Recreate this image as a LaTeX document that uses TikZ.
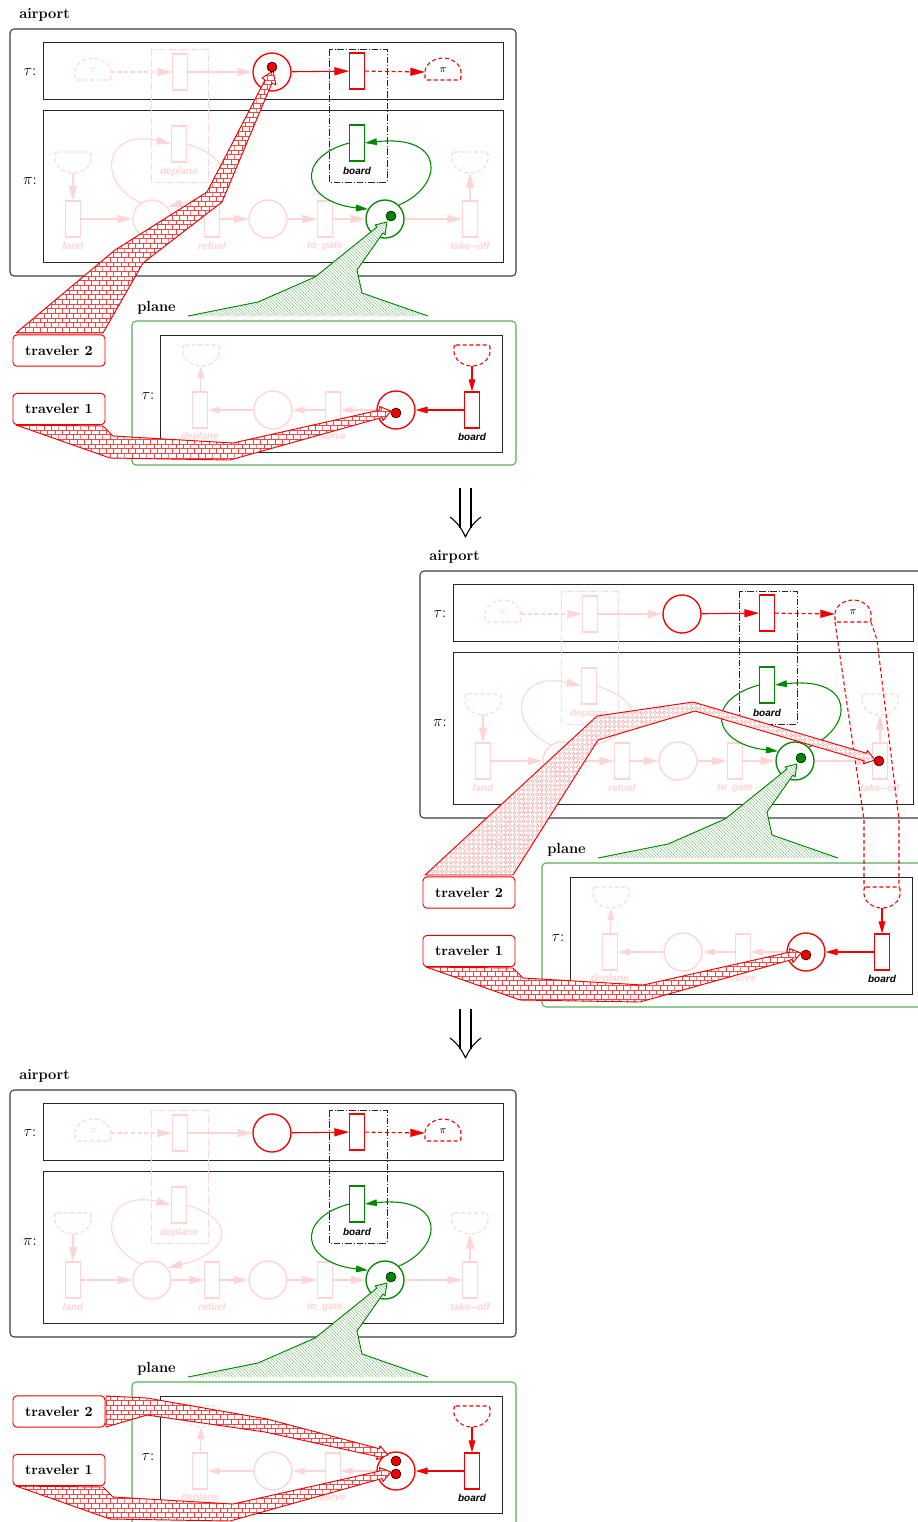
\documentclass[tikz,border=0pt]{standalone}
\usepackage{fontspec}
\usetikzlibrary{arrows.meta,patterns}
\newfontfamily\lblfont{Liberation Sans}

\definecolor{fade}{RGB}{255,212,212}
\definecolor{netred}{RGB}{240,0,0}
\definecolor{netgreen}{RGB}{0,135,0}
\definecolor{boxgreen}{RGB}{85,175,85}
\definecolor{hatchgreen}{RGB}{95,175,95}
\definecolor{brickred}{RGB}{245,70,70}
\definecolor{ringred}{RGB}{250,150,150}
\definecolor{framegray}{RGB}{60,60,60}

% fill patterns for the token-mapping bands
\pgfdeclarepatternformonly{smallbricks}{\pgfqpoint{-0.2pt}{-0.2pt}}{\pgfqpoint{5.7pt}{7.2pt}}{\pgfqpoint{5.5pt}{7pt}}{%
  \pgfsetlinewidth{0.3pt}%
  \pgfpathmoveto{\pgfqpoint{0pt}{0pt}}\pgfpathlineto{\pgfqpoint{5.5pt}{0pt}}%
  \pgfpathmoveto{\pgfqpoint{0pt}{3.5pt}}\pgfpathlineto{\pgfqpoint{5.5pt}{3.5pt}}%
  \pgfpathmoveto{\pgfqpoint{0pt}{0pt}}\pgfpathlineto{\pgfqpoint{0pt}{3.5pt}}%
  \pgfpathmoveto{\pgfqpoint{2.75pt}{3.5pt}}\pgfpathlineto{\pgfqpoint{2.75pt}{7pt}}%
  \pgfusepath{stroke}}
\pgfdeclarepatternformonly{rings}{\pgfqpoint{-0.2pt}{-0.2pt}}{\pgfqpoint{3.6pt}{3.6pt}}{\pgfqpoint{3.4pt}{3.4pt}}{%
  \pgfsetlinewidth{0.3pt}%
  \pgfpathcircle{\pgfqpoint{1.7pt}{1.7pt}}{1.25pt}\pgfusepath{stroke}}
\pgfdeclarepatternformonly{finehatch}{\pgfqpoint{-0.2pt}{-0.2pt}}{\pgfqpoint{2.6pt}{2.6pt}}{\pgfqpoint{2.4pt}{2.4pt}}{%
  \pgfsetlinewidth{0.25pt}%
  \pgfpathmoveto{\pgfqpoint{0pt}{2.4pt}}\pgfpathlineto{\pgfqpoint{2.4pt}{0pt}}\pgfusepath{stroke}}

\tikzset{
  every node/.style={inner sep=0pt},
  place/.style={circle, draw, line width=1pt, minimum size=28.5pt},
  trans/.style={rectangle, draw, line width=0.85pt, minimum width=11pt, minimum height=27pt},
  token/.style={circle, draw=black, line width=0.4pt, minimum size=7.5pt},
  redtoken/.style={token, fill=netred},
  greentoken/.style={token, fill=netgreen},
  tlabel/.style={font=\lblfont\bfseries\itshape\fontsize{7.5}{9}\selectfont},
  boxtitle/.style={font=\bfseries\fontsize{11}{13}\selectfont},
  rowlbl/.style={font=\fontsize{11.5}{13}\selectfont},
  pitext/.style={font=\fontsize{8}{9}\selectfont},
  flow/.style={-{Triangle[length=11pt,width=6pt]}, line width=0.8pt},
  smallflow/.style={-{Triangle[length=9pt,width=5pt]}, line width=0.8pt},
  dashline/.style={dash pattern=on 3pt off 2pt},
  groupbox/.style={line width=0.6pt, dash pattern=on 5pt off 1.5pt on 0.6pt off 1.5pt},
  netframe/.style={draw=black!85, line width=0.75pt},
  travbox/.style={draw=netred, fill=white, rounded corners=3pt, line width=0.7pt,
    minimum width=69pt, minimum height=23.5pt, font=\bfseries\fontsize{10.5}{12}\selectfont},
}

% half-disc with a flat bottom (colour, centre x, bottom y)
\newcommand\domepath[3]{%
  \draw[#1, line width=0.8pt, dashline, rounded corners=1.5pt]
    ({#2-18},#3) -- ({#2+18},#3) -- ({#2+18},{#3-6})
    arc[start angle=0, end angle=-180, x radius=18, y radius=16] -- cycle;}
% half-disc with a flat top (colour, centre x, top y)
\newcommand\cuppath[3]{%
  \draw[#1, line width=0.8pt, dashline, rounded corners=1.5pt]
    ({#2-18},#3) -- ({#2+18},#3) -- ({#2+18},{#3+5})
    arc[start angle=0, end angle=180, x radius=18, y radius=16] -- cycle;}

% hatched band (pattern, pattern colour, open polygon)
\newcommand\redband[3]{%
  \fill[white] #3 -- cycle;
  \fill[pattern=#1, pattern color=#2] #3 -- cycle;
  \draw[netred, line width=0.7pt, line join=round] #3 -- cycle;}

% double arrow between the stages (top y)
\newcommand\stagearrow[1]{%
  \draw[line width=0.8pt] (460,#1) -- (460,{#1+40});
  \draw[line width=0.8pt] (471,#1) -- (471,{#1+40});
  \draw[line width=0.8pt, line join=round]
    (450,{#1+29}) .. controls (457,{#1+34}) and (462,{#1+41}) .. (465.5,{#1+49})
    .. controls (469,{#1+41}) and (474,{#1+34}) .. (481,{#1+29});}

% nets shared by every stage
\newcommand\stagebase{%
  % airport
  \node[boxtitle, anchor=west] (airport-lbl) at (19,15) {airport};
  \draw[draw=framegray, line width=0.8pt, rounded corners=3pt] (10,29) rectangle (516,276);
  \draw[netframe] (43,42) rectangle (503,99);
  \draw[netframe] (43,110) rectangle (503,262);
  \node[rowlbl] (tau-lbl) at (30,72) {$\tau$:};
  \node[rowlbl] (pi-lbl) at (30,181) {$\pi$:};
  % tau row of the airport
  \domepath{fade}{93}{80}
  \node[pitext, text=fade] (piA) at (93,70) {$\pi$};
  \coordinate (piA-e) at (111,72);
  \node[trans, draw=fade] (tA) at (180,72) {};
  \node[place, draw=netred] (pT) at (272,72) {};
  \node[trans, draw=netred] (tB) at (357,71) {};
  \domepath{netred}{443}{80}
  \node[pitext] (piB) at (443,70) {$\pi$};
  \coordinate (piB-w) at (425,72);
  \draw[flow, fade, dashline] (piA-e) -- (tA);
  \draw[flow, fade] (tA) -- (pT);
  \draw[flow, netred] (pT) -- (tB);
  \draw[flow, netred, dashline] (tB) -- (piB-w);
  % pi row of the airport
  \cuppath{fade}{73}{152}
  \coordinate (cupA) at (73,173);
  \cuppath{fade}{470}{152}
  \coordinate (cupB) at (470,173);
  \node[trans, draw=fade] (land) at (73,219) {};
  \node[place, draw=fade] (p1) at (152,219) {};
  \node[trans, draw=fade] (refuel) at (212,219) {};
  \node[place, draw=fade] (p2) at (268,219) {};
  \node[trans, draw=fade] (togate) at (325,219) {};
  \node[place, draw=netgreen] (pG) at (385,219) {};
  \node[trans, draw=fade] (takeoff) at (470,219) {};
  \node[trans, draw=fade] (deplane) at (179,144) {};
  \node[trans, draw=netgreen] (boardG) at (357,143) {};
  \node[tlabel, text=fade] (land-l) at (73,246) {land};
  \node[tlabel, text=fade] (refuel-l) at (212,246) {refuel};
  \node[tlabel, text=fade] (togate-l) at (325,246) {to\_gate};
  \node[tlabel, text=fade] (takeoff-l) at (470,246) {take--off};
  \node[tlabel, text=fade] (deplane-l) at (179,172) {deplane};
  \node[tlabel] (boardG-l) at (357,171) {board};
  \draw[flow, fade] (cupA) -- (land);
  \draw[flow, fade] (land) -- (p1);
  \draw[flow, fade] (p1) -- (refuel);
  \draw[flow, fade] (refuel) -- (p2);
  \draw[flow, fade] (p2) -- (togate);
  \draw[flow, fade] (togate) -- (pG);
  \draw[flow, fade] (pG) -- (takeoff);
  \draw[flow, fade] (takeoff) -- (cupB);
  \draw[flow, fade] (p1.125) .. controls (95,182) and (105,128) .. (deplane.west);
  \draw[flow, fade] (deplane.east) .. controls (240,160) and (228,192) .. (p1.38);
  \draw[smallflow, netgreen] (boardG.west) .. controls (294,158) and (302,202) .. (pG.150);
  \draw[smallflow, netgreen] (pG.45) .. controls (445,185) and (445,134) .. (boardG.east);
  % transitions that fire together
  \draw[groupbox, draw=fade] (151,49) rectangle (208,182);
  \draw[groupbox, draw=black!85] (329,49) rectangle (387,182);
  % plane
  \node[boxtitle, anchor=west] (plane-lbl) at (137,308) {plane};
  \draw[draw=boxgreen, line width=0.8pt, rounded corners=3pt] (132,321) rectangle (516,465);
  \draw[netframe] (160,335) rectangle (502,452);
  \node[rowlbl] (ptau-lbl) at (148,396) {$\tau$:};
  \cuppath{fade}{201}{345}
  \coordinate (cupC) at (201,366);
  \cuppath{netred}{472}{345}
  \coordinate (cupD) at (472,366);
  \node[trans, draw=fade] (dep2) at (200,410) {};
  \node[place, draw=fade] (pP1) at (273,410) {};
  \node[trans, draw=fade] (serve) at (333,410) {};
  \node[place, draw=netred] (pP) at (396,410) {};
  \node[trans, draw=netred] (board2) at (472,410) {};
  \node[tlabel, text=fade] (dep2-l) at (200,437) {deplane};
  \node[tlabel, text=fade] (serve-l) at (333,437) {serve};
  \node[tlabel] (board2-l) at (472,437) {board};
  \draw[smallflow, netred] (cupD) -- (board2);
  \draw[smallflow, netred] (board2) -- (pP);
  \draw[smallflow, fade] (pP) -- (serve);
  \draw[smallflow, fade] (serve) -- (pP1);
  \draw[smallflow, fade] (pP1) -- (dep2);
  \draw[smallflow, fade] (dep2) -- (cupC);
}

% band from the plane to the airport's pi place
\newcommand\planeband{%
  \fill[white] (188,316) -- (258,302) -- (315,277) -- (377,227) -- (375,225) -- (387,222)
    -- (385,235) -- (383,233) -- (357,270) -- (362,293) -- (428,316) -- cycle;
  \fill[pattern=finehatch, pattern color=hatchgreen] (188,316) -- (258,302) -- (315,277)
    -- (377,227) -- (375,225) -- (387,222) -- (385,235) -- (383,233) -- (357,270)
    -- (362,293) -- (428,316) -- cycle;
  \draw[netgreen, line width=0.7pt, line join=round] (188,316) -- (258,302) -- (315,277)
    -- (377,227) -- (375,225) -- (387,222) -- (385,235) -- (383,233) -- (357,270)
    -- (362,293) -- (428,316);
  \node[greentoken] (tokG) at (391,216) {};
}
% band from traveler 1 to the plane's tau place
\newcommand\firstband{%
  \redband{smallbricks}{brickred}{(103,426) -- (113,436) -- (233,443) -- (380,410)
    -- (379.5,406.5) -- (391,411) -- (383,420.5) -- (382,417.5) -- (230,460)
    -- (110,458) -- (16,425)}
}
\newcommand\travelers{%
  \node[travbox] (trav2) at (59,350.5) {traveler 2};
  \node[travbox] (trav1) at (59,409) {traveler 1};
}

\begin{document}
\begin{tikzpicture}[x=0.75pt, y=-0.75pt]
\useasboundingbox (0,0) rectangle (918,1522);
\clip (0,0) rectangle (918,1522);

% stage 1
\begin{scope}[name prefix=s1-]
  \stagebase
  \redband{smallbricks}{brickred}{(16,333) -- (115,250) -- (207,192) -- (265,80) -- (262,78)
    -- (273,71) -- (276,85) -- (272,83) -- (222,202) -- (143,263) -- (103,333)}
  \firstband
  \planeband
  \travelers
  \node[redtoken] (tokT) at (272,67) {};
  \node[redtoken] (tokP) at (396,413) {};
\end{scope}

\stagearrow{488}

% stage 2
\begin{scope}[shift={(410,542)}, name prefix=s2-]
  \stagebase
  \draw[netred, line width=0.8pt, dashline] (425,80) -- (454,278) -- (454,345);
  \draw[netred, line width=0.8pt, dashline] (461,80) -- (467,98) -- (489,278) -- (489,345);
  \redband{rings}{ringred}{(15,333) -- (187,174) -- (283,160) -- (456.6,211.3)
    -- (457.4,208.4) -- (465,218) -- (453.4,221.8) -- (454.3,218.9) -- (285,169)
    -- (188,198) -- (103,333)}
  \firstband
  \planeband
  \travelers
  \node[redtoken] (tokT) at (469,219) {};
  \node[redtoken] (tokP) at (396,413) {};
\end{scope}

\stagearrow{1009}

% stage 3
\begin{scope}[shift={(0,1061)}, name prefix=s3-]
  \stagebase
  \redband{smallbricks}{brickred}{(106,335) -- (147,337) -- (267,358) -- (379.3,387.7)
    -- (380,384.8) -- (388,394) -- (376.6,398.4) -- (377.3,395.5) -- (265,371)
    -- (147,354) -- (106,366)}
  \firstband
  \planeband
  \travelers
  \node[redtoken] (tokP2) at (396,400) {};
  \node[redtoken] (tokP) at (396,413) {};
\end{scope}
\end{tikzpicture}
\end{document}
